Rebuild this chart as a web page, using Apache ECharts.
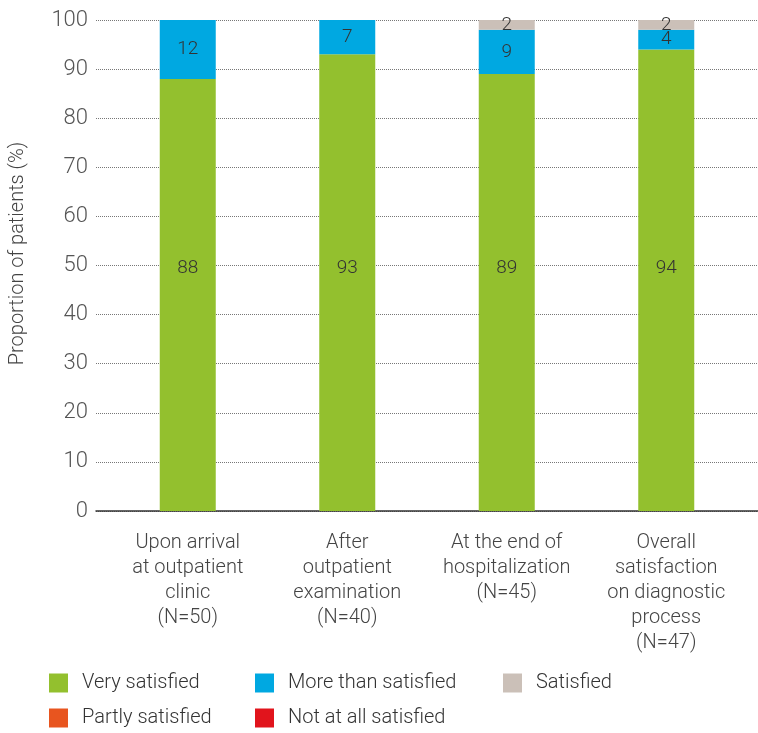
<!DOCTYPE html>
<html>
<head>
<meta charset="utf-8">
<script src="https://cdn.jsdelivr.net/npm/echarts@6/dist/echarts.min.js"></script>
<style>
html,body{margin:0;padding:0;background:#fff;}
#container1{width:758px;height:733px;}
</style>
</head>
<body>
<div id="container1"></div>
<script>
var categories = ['Upon arrival\nat outpatient\nclinic\n(N=50)', 'After\noutpatient\nexamination\n(N=40)', 'At the end of\nhospitalization\n(N=45)', 'Overall\nsatisfaction\non diagnostic\nprocess\n(N=47)'];
var verySatisfied = [88, 93, 89, 94];
var moreThanSatisfied = [12, 7, 9, 4];
var satisfied = [0, 0, 2, 2];
var partlySatisfied = [0, 0, 0, 0];
var notAtAllSatisfied = [0, 0, 0, 0];
var seriesNames = ['Very satisfied', 'More than satisfied', 'Satisfied', 'Partly satisfied', 'Not at all satisfied'];
var colorList = ['#93c02e', '#00a8e1', '#cbc0b8', '#e8551f', '#e1141c'];

var myChart = echarts.init(document.getElementById('container1'));
initChart();

function initChart(){
var font = 'Roboto';
var labelOption = {
    show: true,
    position: 'inside',
    color: '#333',
    fontSize: 19,
    fontWeight: 300,
    fontFamily: font,
    formatter: function(p){ return p.value ? p.value : ''; }
};
var allData = [verySatisfied, moreThanSatisfied, satisfied, partlySatisfied, notAtAllSatisfied];
var s = [];
for (var i = 0; i < allData.length; i++) {
    s.push({
        name: seriesNames[i],
        type: 'bar',
        stack: 'all',
        xAxisIndex: 1,
        yAxisIndex: 1,
        barWidth: 56,
        data: allData[i],
        itemStyle: {color: colorList[i]},
        label: labelOption
    });
}
// green labels all sit at the same height in the original
s[0].label = Object.assign({}, labelOption, {position: 'insideBottom', distance: 233});

var legendPos = [[49, 673], [255, 673], [503, 673], [49, 708], [255, 708]];
var legends = [];
for (var j = 0; j < seriesNames.length; j++) {
    legends.push({
        data: [seriesNames[j]],
        left: legendPos[j][0],
        top: legendPos[j][1],
        padding: 0,
        icon: 'rect',
        itemWidth: 19,
        itemHeight: 19,
        selectedMode: false,
        textStyle: {fontSize: 20, fontWeight: 300, color: '#333', fontFamily: font, padding: [0, 0, 0, 9]}
    });
}

var option = {
    animation: false,
    legend: legends,
    grid: [
        {left: 88, right: 0, top: 20, bottom: 222},
        {left: 108, right: 12, top: 20, bottom: 222}
    ],
    xAxis: [
        {
            type: 'value', gridIndex: 0, min: 0, max: 1,
            axisLine: {show: true, onZero: false, lineStyle: {color: '#333', width: 1.5}},
            axisTick: {show: false}, axisLabel: {show: false}, splitLine: {show: false}
        },
        {
            type: 'category', gridIndex: 1, data: categories,
            axisLine: {show: false}, axisTick: {show: false},
            axisLabel: {fontSize: 20, fontWeight: 300, color: '#444', fontFamily: font, lineHeight: 25, margin: 19, interval: 0}
        }
    ],
    yAxis: [
        {
            type: 'value', gridIndex: 0, min: 0, max: 100, interval: 10,
            name: 'Proportion of patients (%)', nameLocation: 'middle', nameGap: 68,
            nameTextStyle: {fontSize: 20, fontWeight: 300, color: '#444', fontFamily: font, padding: [0, 0, 0, 24]},
            axisLine: {show: false}, axisTick: {show: false},
            axisLabel: {fontSize: 22, fontWeight: 300, color: '#555', fontFamily: font, margin: 8},
            splitLine: {show: true, lineStyle: {type: 'dotted', color: '#777', width: 1}}
        },
        {
            type: 'value', gridIndex: 1, min: 0, max: 100, interval: 10,
            show: false, splitLine: {show: false}
        }
    ],
    series: s
};
myChart.setOption(option);
}
</script>
</body>
</html>
